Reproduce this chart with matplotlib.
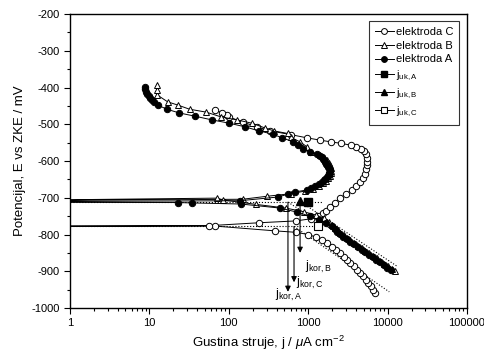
import numpy as np
import matplotlib
matplotlib.use('Agg')
import matplotlib.pyplot as plt
from matplotlib.ticker import MultipleLocator, LogLocator, FixedLocator, NullFormatter

plt.rcParams['font.family'] = ['Liberation Sans', 'DejaVu Sans']
plt.rcParams['mathtext.fontset'] = 'custom'
plt.rcParams['mathtext.rm'] = 'Liberation Sans'
plt.rcParams['mathtext.it'] = 'Liberation Sans:italic'
plt.rcParams['axes.unicode_minus'] = False

# electrode A (filled circles): potential mV, current density uA/cm2
A_E = [-897, -890, -883, -876, -869, -862, -855, -848, -841, -834, -827, -820, -813, -806,
       -799, -792, -785, -777, -769, -760, -750, -739, -728, -717, -714, -713, -712,
       -708, -698, -690, -684, -679, -673, -668, -662, -657, -652, -648, -644, -640, -636,
       -632, -628, -624, -620, -616, -611, -607, -603, -598, -594, -589, -585, -581, -575,
       -566, -557, -548, -537, -527, -518, -507, -497, -488, -478, -469, -459, -448, -440,
       -434, -429, -423, -417, -411, -405, -399]
A_j = [11000, 9900, 8900, 8000, 7200, 6500, 5800, 5200, 4700, 4200, 3800, 3400, 3050, 2750,
       2500, 2300, 2150, 2000, 1680, 1350, 1050, 720, 440, 142, 34, 23, 0.01,
       138, 415, 560, 680, 960, 1100, 1230, 1380, 1490, 1570, 1640, 1720, 1800, 1830,
       1850, 1860, 1860, 1840, 1800, 1740, 1690, 1640, 1580, 1530, 1490, 1390, 1290, 1050,
       870, 750, 650, 470, 360, 240, 160, 101, 61, 37.5, 23.6, 16.6, 12.8, 11.5,
       10.8, 10.3, 9.8, 9.4, 9.1, 8.9, 8.8]

# electrode B (open triangles)
B_E = [-900, -893, -886, -879, -872, -865, -858, -851, -844, -837, -830, -823, -816, -809,
       -802, -795, -788, -781, -774, -766, -756, -747, -738, -728, -718, -706, -701, -710,
       -704, -696, -689, -682, -675, -668, -661, -654, -647, -640, -633, -626, -619, -612,
       -605, -598, -591, -584, -575, -561, -548, -535, -525, -518, -510, -497, -488, -480,
       -467, -459, -448, -439, -420, -407, -393]
B_j = [12500, 11200, 10000, 9000, 8100, 7300, 6500, 5800, 5200, 4700, 4200, 3800, 3400, 3100,
       2800, 2550, 2350, 2150, 2000, 1850, 1600, 1250, 880, 520, 220, 84, 71, 0.01,
       150, 300, 600, 900, 1150, 1350, 1550, 1700, 1800, 1870, 1920, 1950, 1940, 1900,
       1830, 1730, 1600, 1420, 1100, 960, 790, 600, 550, 370, 285, 195, 126, 80,
       52, 32, 23, 17, 12.5, 12.4, 12.4]

# electrode C (open circles)
C_E = [-959, -950, -941, -932, -923, -914, -905, -896, -887, -878, -869, -860, -851, -842,
       -833, -824, -815, -807, -800, -794, -790, -777, -778, -776, -768, -763, -757, -750,
       -742, -735, -725, -713, -701, -690, -679, -667, -656, -645, -634, -623, -612, -602,
       -592, -582, -574, -567, -561, -557, -552, -548, -543, -537, -528, -518, -507, -494,
       -480, -475, -469, -461]
C_j = [6900, 6500, 6100, 5700, 5300, 4900, 4500, 4100, 3750, 3400, 3100, 2800, 2500, 2250,
       2000, 1750, 1500, 1250, 1000, 700, 380, 67, 0.01, 56, 240, 700, 1100, 1350,
       1540, 1700, 1870, 2150, 2500, 3000, 3530, 4000, 4450, 4850, 5150, 5350, 5500, 5550,
       5500, 5300, 5000, 4600, 4000, 3465, 2600, 1937, 1400, 966, 600, 330, 226, 150,
       100, 95, 82, 67]

# j_uk points
juk_j = [1000, 780, 1320]
juk_E = [-712, -709, -778]

# Tafel extrapolations (dotted)
tafAB_h_j, tafAB_h_E = [1, 1500], [-711, -711]
tafC_h_j, tafC_h_E = [1, 1320], [-778, -778]
tafA_j, tafA_E = [556, 12000], [-712, -893]
tafB_j, tafB_E = [790, 13500], [-710, -888]
tafC_j, tafC_E = [663, 10500], [-778, -956]

# j_kor arrows: x, start E, tip E, label position
kor_names = ['A', 'C', 'B']
kor_j = [556, 663, 790]
kor_E0 = [-712, -778, -710]
kor_E1 = [-956, -930, -850]
kor_lab_j = [380, 700, 910]
kor_lab_E = [-965, -932, -888]

fig = plt.figure(figsize=(4.85, 3.56), dpi=100)
ax = fig.add_axes([0.1443, 0.1348, 0.8186, 0.8258])

lw = 0.7
ms = 4.6
ax.plot(tafAB_h_j, tafAB_h_E, ':', color='k', lw=0.8)
ax.plot(tafC_h_j, tafC_h_E, ':', color='k', lw=0.8)
ax.plot(tafA_j, tafA_E, ':', color='k', lw=0.8)
ax.plot(tafB_j, tafB_E, ':', color='k', lw=0.8)
ax.plot(tafC_j, tafC_E, ':', color='k', lw=0.8)

ax.plot(C_j, C_E, '-o', color='k', lw=lw, ms=ms, mfc='white', mec='k', mew=0.7,
        label='elektroda C')
ax.plot(B_j, B_E, '-^', color='k', lw=lw, ms=ms + 0.4, mfc='white', mec='k', mew=0.7,
        label='elektroda B')
ax.plot(A_j, A_E, '-o', color='k', lw=lw, ms=ms, mfc='k', mec='k', mew=0.7,
        label='elektroda A')

ax.plot([juk_j[0]], [juk_E[0]], '-s', color='k', lw=lw, ms=5.5, mfc='k', mec='k',
        label=r'j$_{\rm uk,A}$')
ax.plot([juk_j[1]], [juk_E[1]], '-^', color='k', lw=lw, ms=6, mfc='k', mec='k',
        label=r'j$_{\rm uk,B}$')
ax.plot([juk_j[2]], [juk_E[2]], '-s', color='k', lw=lw, ms=6, mfc='white', mec='k', mew=0.8,
        label=r'j$_{\rm uk,C}$')

for n, x, e0, e1, lx, le in zip(kor_names, kor_j, kor_E0, kor_E1, kor_lab_j, kor_lab_E):
    ax.annotate('', xy=(x, e1), xytext=(x, e0),
                arrowprops=dict(arrowstyle='-|>', color='k', lw=0.8, mutation_scale=8,
                                shrinkA=0, shrinkB=0))
    ax.text(lx, le, r'j$_{\rm kor,%s}$' % n, fontsize=9, va='center', ha='left')

ax.set_xscale('log')
ax.set_xlim(1, 100000)
ax.set_ylim(-1000, -200)
ax.xaxis.set_major_locator(FixedLocator([1, 10, 100, 1000, 10000, 100000]))
ax.set_xticklabels(['1', '10', '100', '1000', '10000', '100000'])
ax.xaxis.set_minor_locator(LogLocator(base=10, subs=np.arange(2, 10), numticks=20))
ax.xaxis.set_minor_formatter(NullFormatter())
ax.yaxis.set_major_locator(MultipleLocator(100))
ax.yaxis.set_minor_locator(MultipleLocator(50))
ax.tick_params(which='major', direction='out', length=4, width=0.8, labelsize=8)
ax.tick_params(which='minor', direction='out', length=2.2, width=0.8)
for s in ax.spines.values():
    s.set_linewidth(1.0)

ax.set_xlabel(r'Gustina struje, j / $\mu$A cm$^{-2}$', fontsize=9.5, labelpad=4)
ax.set_ylabel('Potencijal, E vs ZKE / mV', fontsize=9.5, labelpad=4)

leg = ax.legend(loc='upper right', bbox_to_anchor=(0.98, 0.976), borderaxespad=0,
                fontsize=8, frameon=True, fancybox=False, handlelength=1.7,
                handletextpad=0.2, labelspacing=0.35, borderpad=0.5)
leg.get_frame().set_edgecolor('k')
leg.get_frame().set_linewidth(0.8)
for h in leg.legend_handles:
    h.set_markersize(4.2)

fig.savefig('out.png', dpi=100)
